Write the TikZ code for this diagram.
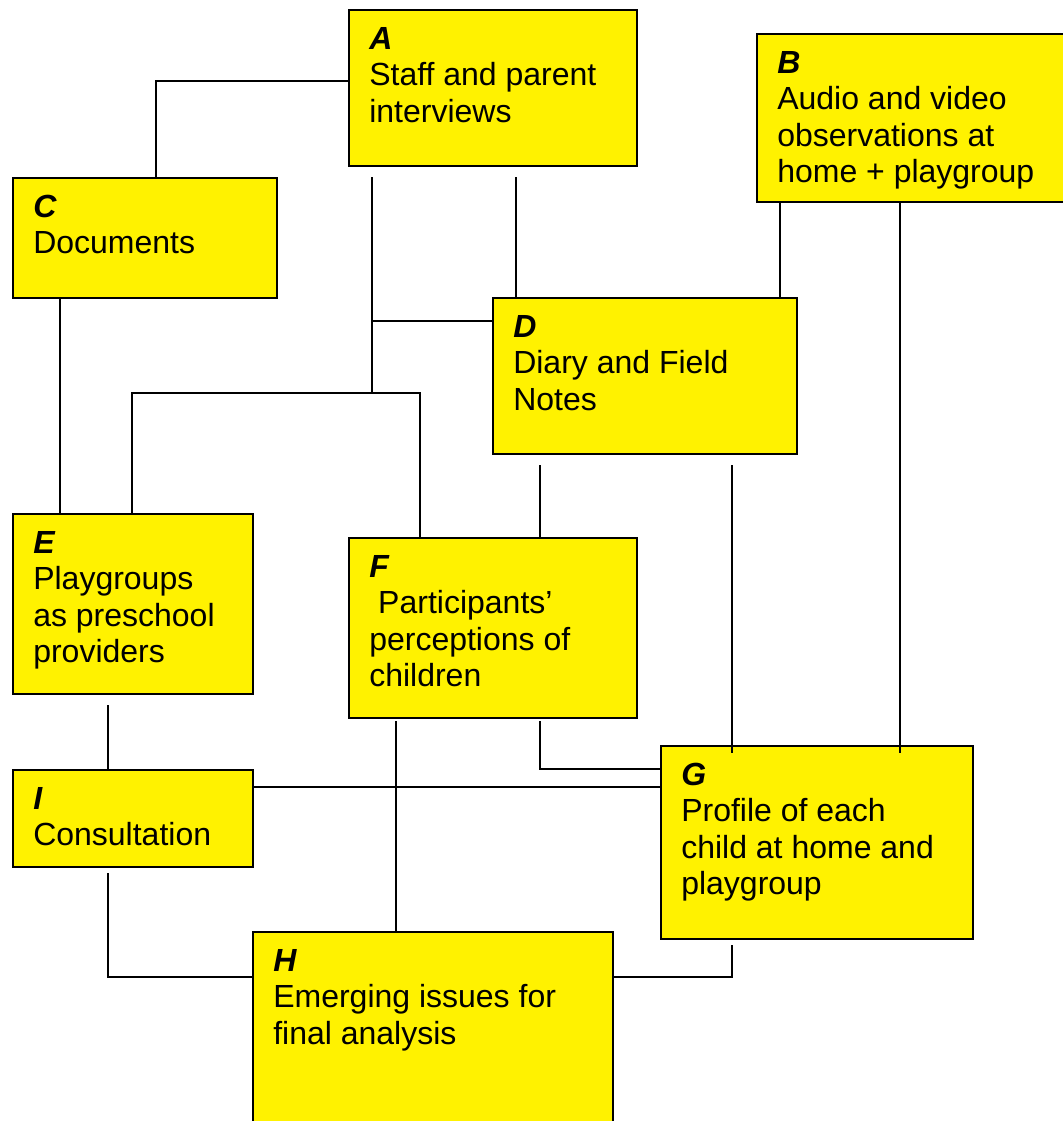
\documentclass[tikz,border=0pt]{standalone}
\usepackage{fontspec}
\setmainfont{Liberation Sans}
\usetikzlibrary{positioning}

\newcommand{\boxtext}[2]{\parbox[t]{12cm}{\fontsize{24}{27.4}\selectfont\textbf{\textit{#1}}\\#2}}

\begin{document}
\begin{tikzpicture}[x=0.75pt,y=-0.75pt,
    box/.style={draw, fill=yellow, line width=1.5pt, anchor=north west, inner sep=0pt},
    sz/.style 2 args={minimum width=#1*0.75pt, minimum height=#2*0.75pt},
    lbl/.style={anchor=base west, inner sep=0pt},
    link/.style={line width=0.8pt}]
                \useasboundingbox (0,0) rectangle (1063,1121);
                \clip (0,0) rectangle (1063,1121);
                % boxes
                \node[box, sz={288}{156}] (A) at (348,9) {};
                \node[box, sz={330}{168}] (B) at (756,33) {};
                \node[box, sz={264}{120}] (C) at (12,177) {};
                \node[box, sz={304}{156}] (D) at (492,297) {};
                \node[box, sz={240}{180}] (E) at (12,513) {};
                \node[box, sz={288}{180}] (F) at (348,537) {};
                \node[box, sz={312}{193}] (G) at (660,745) {};
                \node[box, sz={240}{97}] (I) at (12,769) {};
                \node[box, sz={360}{230}] (H) at (252,931) {};
                % texts
                \node[lbl] (A-t) at ([shift={(21,40)}]A.north west) {\boxtext{A}{Staff and parent\\interviews}};
                \node[lbl] (B-t) at ([shift={(21,40)}]B.north west) {\boxtext{B}{Audio and video\\observations at\\home + playgroup}};
                \node[lbl] (C-t) at ([shift={(21,40)}]C.north west) {\boxtext{C}{Documents}};
                \node[lbl] (D-t) at ([shift={(21,40)}]D.north west) {\boxtext{D}{Diary and Field\\Notes}};
                \node[lbl] (E-t) at ([shift={(21,40)}]E.north west) {\boxtext{E}{Playgroups\\as preschool\\providers}};
                \node[lbl] (F-t) at ([shift={(21,40)}]F.north west) {\boxtext{F}{\hspace*{0.28em}Participants’\\perceptions of\\children}};
                \node[lbl] (G-t) at ([shift={(21,40)}]G.north west) {\boxtext{G}{Profile of each\\child at home and\\playgroup}};
                \node[lbl] (I-t) at ([shift={(21,40)}]I.north west) {\boxtext{I}{Consultation}};
                \node[lbl] (H-t) at ([shift={(21,40)}]H.north west) {\boxtext{H}{Emerging issues for\\final analysis}};
                % free ends
                \coordinate (a1) at (372,177);
                \coordinate (a2) at (372,393);
                \coordinate (a3) at (516,177);
                \coordinate (d1) at (540,465);
                \coordinate (d2) at (732,465);
                \coordinate (e1) at (108,705);
                \coordinate (f1) at (540,721);
                \coordinate (f2) at (396,721);
                \coordinate (i1) at (108,873);
                \coordinate (g1) at (732,945);
                % links
                \draw[link] (A.west |- 0,81) -| (156,0 |- C.north);
                \draw[link] (a1) -- (a2);
                \draw[link] (a1 |- 0,321) -- (D.west |- 0,321);
                \draw[link] (132,0 |- E.north) |- (a2) -| (420,0 |- F.north);
                \draw[link] (a3) -- (a3 |- D.north);
                \draw[link] (780,0 |- B.south) -- (780,0 |- D.north);
                \draw[link] (900,0 |- B.south) -- (900,753);
                \draw[link] (60,0 |- C.south) -- (60,0 |- E.north);
                \draw[link] (d1) -- (d1 |- F.north);
                \draw[link] (d2) -- (732,753);
                \draw[link] (e1) -- (e1 |- I.north);
                \draw[link] (f1) |- (G.west |- 0,769);
                \draw[link] (f2) -- (f2 |- H.north);
                \draw[link] (I.east |- 0,787) -- (G.west |- 0,787);
                \draw[link] (i1) |- (H.west |- 0,977);
                \draw[link] (g1) |- (H.east |- 0,977);
            \end{tikzpicture}
\end{document}
